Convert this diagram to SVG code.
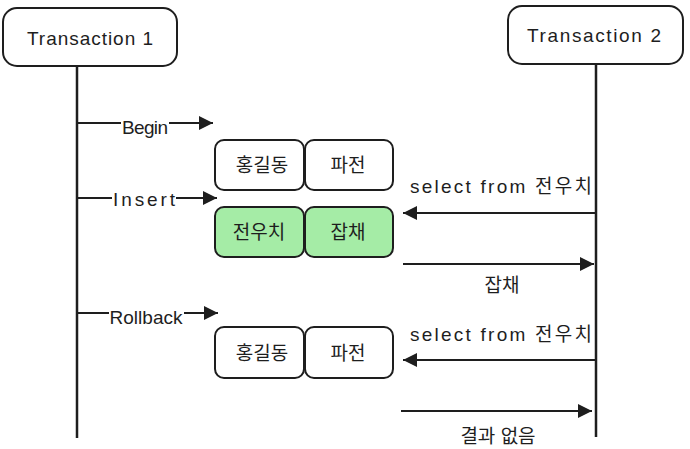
<svg xmlns="http://www.w3.org/2000/svg" width="690" height="449" viewBox="0 0 690 449">
<style>
.box{fill:#ffffff;stroke:#1e1e1e;stroke-width:2}
.g{fill:#a5eca6}
.t{font-family:"Liberation Sans","Noto Sans CJK KR",sans-serif;font-size:19px;fill:#1e1e1e;text-anchor:middle;dominant-baseline:central}
.k{font-size:19px}
.ln{stroke:#1e1e1e;stroke-width:2;fill:none}
.life{stroke:#1e1e1e;stroke-width:2.5;fill:none}
</style>
<defs>
<marker id="ahb" viewBox="0 0 10 10" refX="10" refY="5" markerWidth="16" markerHeight="14" markerUnits="userSpaceOnUse" orient="auto">
<path d="M0,0 L10,5 L0,10 Z" fill="#1e1e1e"/>
</marker>
</defs>
<g id="tx1">
<rect class="box" x="3" y="8" width="174" height="58" rx="14"/>
<text class="t" x="90" y="38" textLength="126">Transaction 1</text>
</g>
<g id="tx2">
<rect class="box" x="508" y="6" width="175" height="58" rx="14"/>
<text class="t" x="594" y="35" textLength="134">Transaction 2</text>
</g>
<g id="row1">
<rect class="box" x="215" y="140" width="89" height="50" rx="9"/>
<text class="t k" x="262" y="165">홍길동</text>
<rect class="box" x="305" y="140" width="88" height="50" rx="9"/>
<text class="t k" x="348" y="165">파전</text>
</g>
<g id="row2">
<rect class="box g" x="215" y="207" width="89" height="50" rx="9"/>
<text class="t k" x="259" y="232">전우치</text>
<rect class="box g" x="305" y="207" width="88" height="50" rx="9"/>
<text class="t k" x="348" y="232">잡채</text>
</g>
<g id="row3">
<rect class="box" x="215" y="327" width="89" height="51" rx="9"/>
<text class="t k" x="262" y="353">홍길동</text>
<rect class="box" x="305" y="327" width="88" height="51" rx="9"/>
<text class="t k" x="348" y="353">파전</text>
</g>
<g id="connectors">
<line class="life" x1="77" y1="66" x2="77" y2="438"/>
<line class="life" x1="596" y1="64" x2="596" y2="437"/>
<line class="ln" x1="77" y1="123" x2="121" y2="123"/>
<line class="ln" x1="169" y1="123" x2="213" y2="123" marker-end="url(#ahb)"/>
<text class="t" x="145" y="127" textLength="46">Begin</text>
<line class="ln" x1="77" y1="198" x2="112" y2="198"/>
<line class="ln" x1="176" y1="198" x2="217" y2="198" marker-end="url(#ahb)"/>
<text class="t" x="144" y="199" textLength="62">Insert</text>
<line class="ln" x1="77" y1="313" x2="109" y2="313"/>
<line class="ln" x1="184" y1="313" x2="218" y2="313" marker-end="url(#ahb)"/>
<text class="t" x="146" y="317" textLength="73">Rollback</text>
<line class="ln" x1="596" y1="213" x2="403" y2="213" marker-end="url(#ahb)"/>
<text class="t" x="501" y="186" textLength="182">select from 전우치</text>
<line class="ln" x1="403" y1="264" x2="594" y2="264" marker-end="url(#ahb)"/>
<text class="t k" x="502" y="285">잡채</text>
<line class="ln" x1="596" y1="360" x2="403" y2="360" marker-end="url(#ahb)"/>
<text class="t" x="501" y="334" textLength="182">select from 전우치</text>
<line class="ln" x1="401" y1="411" x2="592" y2="411" marker-end="url(#ahb)"/>
<text class="t k" x="498" y="436">결과 없음</text>
</g>
</svg>
